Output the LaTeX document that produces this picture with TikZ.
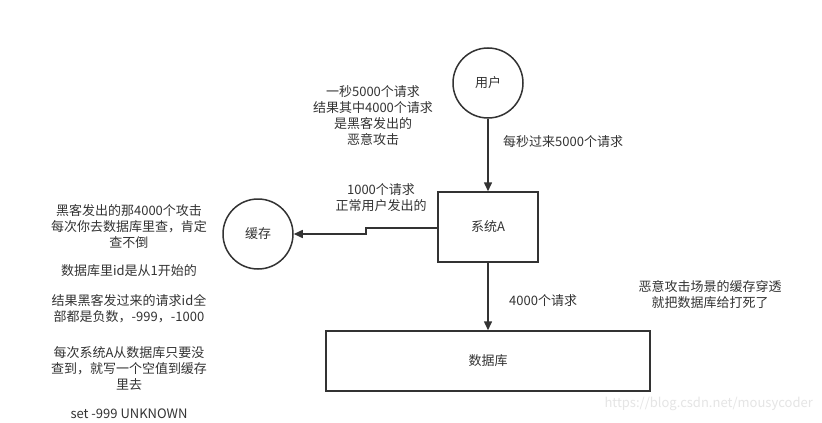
\documentclass[tikz,border=0pt]{standalone}
\usepackage{fontspec}
\setmainfont{Noto Sans CJK SC}
\usetikzlibrary{arrows.meta}
\definecolor{ink}{HTML}{333333}
\begin{document}
\begin{tikzpicture}[x=1pt,y=-1pt,
  every node/.style={font=\fontsize{13}{16}\selectfont, text=ink},
  roundnode/.style={draw=ink, line width=1.5pt, circle, minimum size=70pt, inner sep=0pt},
  boxnode/.style={draw=ink, line width=1.5pt, rectangle, inner sep=0pt},
  conn/.style={draw=ink, line width=1.5pt, -{Triangle[length=9pt,width=8pt]}},
  note/.style={align=center, inner sep=0pt}]
\useasboundingbox (0,0) rectangle (822,423);
\fill[white] (0,0) rectangle (822,423);
\node[roundnode] (user) at (488,83) {用户};
\node[boxnode, minimum width=100pt, minimum height=70pt] (sysA) at (488,227) {系统A};
\node[roundnode] (cache) at (258,234) {缓存};
\node[boxnode, minimum width=324pt, minimum height=60pt] (db) at (488,361) {数据库};
\coordinate (bend1) at (366,228);
\coordinate (bend2) at (366,234);
\draw[conn] (user) -- (sysA);
\draw[conn] (sysA.west |- bend1) -- (bend1) -- (bend2) -- (cache.east);
\draw[conn] (sysA) -- (db);
\node[note, anchor=west] (l1) at (503,142) {每秒过来5000个请求};
\node[note] (l2) at (373,116) {一秒5000个请求\\结果其中4000个请求\\是黑客发出的\\恶意攻击};
\node[note] (l3) at (381,198) {1000个请求\\正常用户发出的};
\node[note, anchor=west] (l4) at (509,301) {4000个请求};
\node[note] (l5) at (710,295) {恶意攻击场景的缓存穿透\\就把数据库给打死了};
\node[note] (p1) at (129,226) {黑客发出的那4000个攻击\\每次你去数据库里查，肯定\\查不倒};
\node[note] (p2) at (129,271) {数据库里id是从1开始的};
\node[note] (p3) at (129,309) {结果黑客发过来的请求id全\\部都是负数，-999，-1000};
\node[note] (p4) at (129,368) {每次系统A从数据库只要没\\查到，就写一个空值到缓存\\里去};
\node[note] (p5) at (129,414) {set -999 UNKNOWN};
\node[note, anchor=east, text=black!10] (wm) at (813,404) {https://blog.csdn.net/mousycoder};
\end{tikzpicture}
\end{document}
